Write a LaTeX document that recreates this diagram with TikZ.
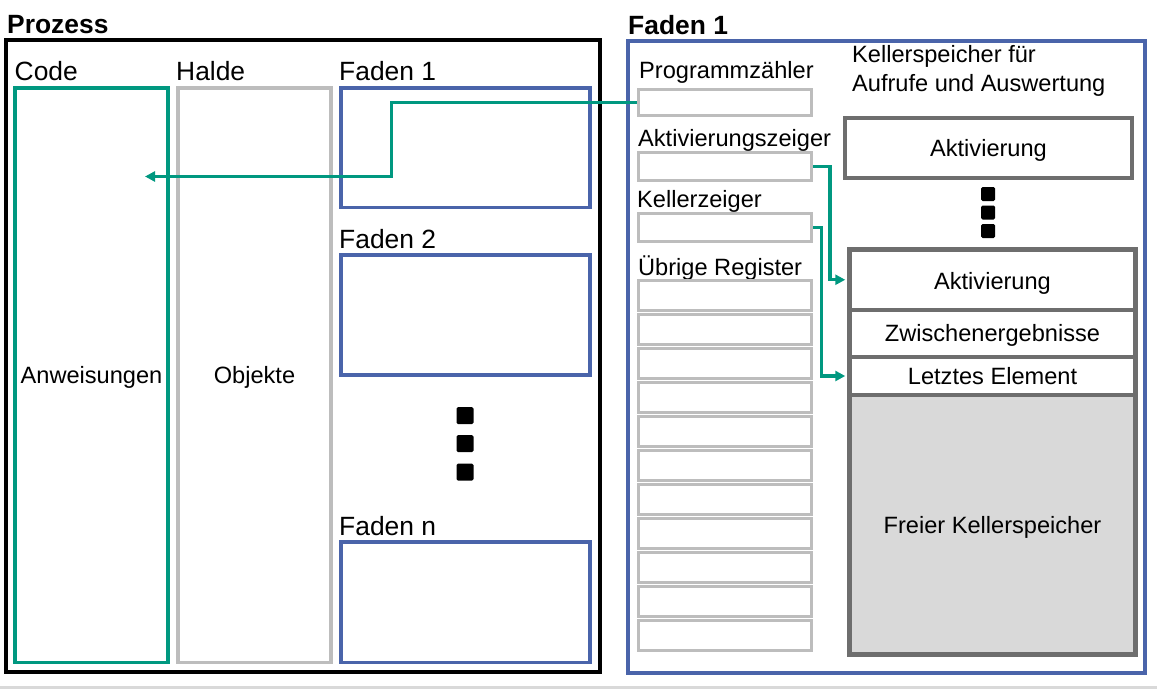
\documentclass[tikz,border=0pt]{standalone}
\usepackage{fontspec}
\setmainfont{Liberation Sans}
\usetikzlibrary{arrows.meta}
\definecolor{tealc}{RGB}{0,152,128}
\definecolor{bluec}{RGB}{74,100,170}
\definecolor{regc}{RGB}{189,189,189}
\definecolor{dgrayc}{RGB}{110,110,110}
\definecolor{fillc}{RGB}{217,217,217}
\begin{document}
\begin{tikzpicture}[x=1pt,y=-1pt,
  lbl/.style={inner sep=0pt,font=\fontsize{23.6pt}{28pt}\selectfont},
  hdr/.style={inner sep=0pt,anchor=base west,font=\fontsize{26.4pt}{30pt}\selectfont},
  ttl/.style={inner sep=0pt,anchor=base west,font=\fontsize{26.4pt}{30pt}\selectfont\bfseries},
  boxlbl/.style={lbl,text height=16.9pt,text depth=0pt},
  codebox/.style={draw=tealc,line width=3.5pt,minimum width=153pt,minimum height=574.5pt,inner sep=0pt},
  haldebox/.style={draw=regc,line width=3.5pt,minimum width=153pt,minimum height=574.5pt,inner sep=0pt},
  threadbox/.style={draw=bluec,line width=3.5pt,minimum width=249pt,inner sep=0pt},
  regbox/.style={draw=regc,line width=3.5pt,minimum width=173pt,inner sep=0pt},
  stackbox/.style={draw=dgrayc,line width=4.5pt,minimum width=286pt,inner sep=0pt},
  dotbig/.style={fill=black,minimum size=17pt,inner sep=0pt,rounded corners=1.5pt},
  dotsmall/.style={fill=black,minimum size=14pt,inner sep=0pt,rounded corners=1.5pt},
  conn/.style={draw=tealc,line width=3.3pt,-{Triangle[length=10pt,width=10pt]}}
]
\useasboundingbox (0,0) rectangle (1157,689);
% bottom grey rule
\fill[fillc] (0,686) rectangle (1157,689);

% ---------- Prozess ----------
\node[ttl] (tproz) at (7,33) {Prozess};
\node[draw=black,line width=4pt,minimum width=594pt,minimum height=632.5pt,inner sep=0pt] (proz) at (302.5,355.75) {};

\node[hdr] (hcode) at (14.5,80) {Code};
\node[hdr] (hhalde) at (176,80) {Halde};
\node[hdr] (hf1) at (339,80) {Faden 1};
\node[hdr] (hf2) at (339,248) {Faden 2};
\node[hdr] (hfn) at (339,535) {Faden n};

\node[codebox] (code) at (91.5,375.25) {};
\node[boxlbl] (anw) at (91.5,375.25) {Anweisungen};
\node[haldebox] (halde) at (254.5,375.25) {};
\node[boxlbl] (obj) at (254.5,375.25) {Objekte};

\node[threadbox,minimum height=119.5pt] (f1) at (465.5,147.75) {};
\node[threadbox,minimum height=120pt] (f2) at (465.5,315) {};
\node[threadbox,minimum height=120.5pt] (fn) at (465.5,602.25) {};

\node[dotbig] (dl1) at (465,415.5) {};
\node[dotbig] (dl2) at (465,443.5) {};
\node[dotbig] (dl3) at (465,472) {};

% ---------- Faden 1 ----------
\node[ttl] (tfaden) at (628,34) {Faden 1};
\node[draw=bluec,line width=3.5pt,minimum width=517pt,minimum height=632pt,inner sep=0pt] (faden) at (886.5,357) {};

\node[lbl,anchor=base west] (lpz) at (639,78) {Programmzähler};
\node[lbl,anchor=base west] (lakz) at (638,146) {Aktivierungszeiger};
\node[lbl,anchor=base west] (lkz) at (637,207) {Kellerzeiger};
\node[lbl,anchor=base west] (lur) at (638,275) {Übrige Register};

\node[regbox,minimum height=26pt] (pz) at (725,102.5) {};
\node[regbox,minimum height=28pt] (akz) at (725,166.5) {};
\node[regbox,minimum height=28pt] (kz) at (725,227.5) {};
\foreach \i in {0,...,10}{
  \node[regbox,minimum height=30pt] (r\i) at (725,{295.5+34*\i}) {};
}

\node[lbl,anchor=base west,align=left] (ks1) at (852,62.7) {Kellerspeicher für};
\node[lbl,anchor=base west,align=left] (ks2) at (852,91) {Aufrufe und Auswertung};

\node[draw=dgrayc,line width=4pt,minimum width=287pt,minimum height=60pt,inner sep=0pt] (akt0) at (988.5,148) {};
\node[boxlbl] (takt0) at (988.5,148.5) {Aktivierung};

\node[dotsmall] (dr1) at (988,194) {};
\node[dotsmall] (dr2) at (988,212.5) {};
\node[dotsmall] (dr3) at (988,231) {};

\node[stackbox,fill=fillc,minimum height=259.5pt] (frei) at (992.5,524.75) {};
\node[boxlbl] (tfrei) at (992.5,525) {Freier Kellerspeicher};
\node[stackbox,minimum height=38pt] (letzt) at (992.5,376) {};
\node[boxlbl] (tletzt) at (992.5,376.5) {Letztes Element};
\node[stackbox,minimum height=47pt] (zw) at (992.5,333.5) {};
\node[boxlbl] (tzw) at (992.5,333.5) {Zwischenergebnisse};
\node[stackbox,minimum height=60.5pt] (akt1) at (992.5,279.75) {};
\node[boxlbl] (takt1) at (992.5,281.5) {Aktivierung};

% ---------- connectors ----------
\coordinate (codein) at (145,176.5);
\draw[conn] (pz.west) -- (391.5,102.5) -- (391.5,176.5) -- (codein);
\draw[conn] (akz.east) -- (830,166.5) |- ([xshift=-2pt]akt1.west);
\draw[conn] (kz.east) -- (821.5,227.5) |- ([xshift=-2pt]letzt.west);
\end{tikzpicture}
\end{document}
